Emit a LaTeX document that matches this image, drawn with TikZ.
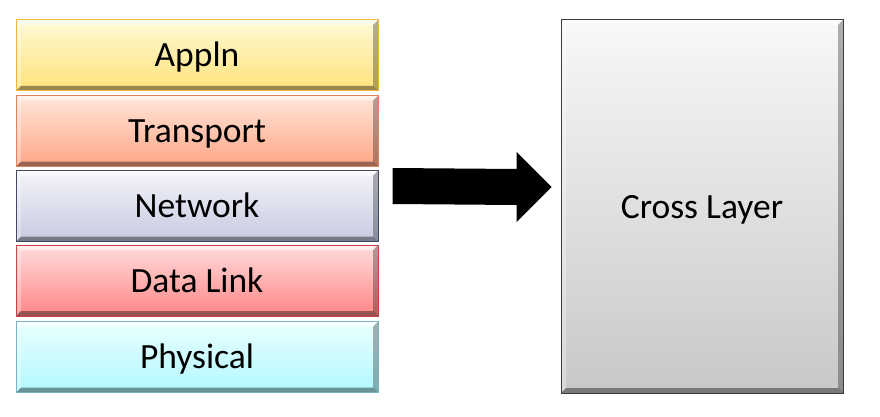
\documentclass[tikz,border=0pt]{standalone}
\usepackage{fontspec}
\setmainfont{Carlito}
\begin{document}
\begin{tikzpicture}[x=1pt,y=-1pt,
  bev/.style={path picture={
    \fill[white,opacity=0.55] (path picture bounding box.north west) -- (path picture bounding box.north east)
       -- ([shift={(-5,5)}]path picture bounding box.north east) -- ([shift={(5,5)}]path picture bounding box.north west) -- cycle;
    \fill[white,opacity=0.3] (path picture bounding box.north west) -- ([shift={(5,5)}]path picture bounding box.north west)
       -- ([shift={(5,-5)}]path picture bounding box.south west) -- (path picture bounding box.south west) -- cycle;
    \fill[black,opacity=0.3] (path picture bounding box.north east) -- (path picture bounding box.south east)
       -- ([shift={(-5,-5)}]path picture bounding box.south east) -- ([shift={(-5,5)}]path picture bounding box.north east) -- cycle;
    \fill[black,opacity=0.4] (path picture bounding box.south west) -- (path picture bounding box.south east)
       -- ([shift={(-5,-5)}]path picture bounding box.south east) -- ([shift={(5,-5)}]path picture bounding box.south west) -- cycle;
  }},
  layer/.style n args={3}{draw=#3, line width=1pt, top color=#1, bottom color=#2, bev,
    minimum width=362pt, minimum height=71pt, inner sep=0pt, text height=23pt, text depth=0pt,
    font=\fontsize{35.5}{40}\selectfont},
]
\useasboundingbox (0,0) rectangle (880,417);
\definecolor{apT}{HTML}{FFF9D6}\definecolor{apB}{HTML}{FFE27A}\definecolor{apD}{HTML}{F2B53A}
\definecolor{trT}{HTML}{FFE6DA}\definecolor{trB}{HTML}{FFA585}\definecolor{trD}{HTML}{E0845F}
\definecolor{nwT}{HTML}{F4F4FA}\definecolor{nwB}{HTML}{C6CAE0}\definecolor{nwD}{HTML}{404A66}
\definecolor{dlT}{HTML}{FFDCDC}\definecolor{dlB}{HTML}{FF8585}\definecolor{dlD}{HTML}{C84444}
\definecolor{phT}{HTML}{EAFFFF}\definecolor{phB}{HTML}{B0F8FF}\definecolor{phD}{HTML}{7AB4C4}
\definecolor{crT}{HTML}{F8F8F8}\definecolor{crB}{HTML}{C8C8C8}\definecolor{crD}{HTML}{3C3C3C}
\node[layer={apT}{apB}{apD}] (appln) at (197,55.5) {Appln};
\node[layer={trT}{trB}{trD}] (transport) at (197,131) {Transport};
\node[layer={nwT}{nwB}{nwD}] (network) at (197,206) {Network};
\node[layer={dlT}{dlB}{dlD}] (datalink) at (197,280.5) {Data Link};
\node[layer={phT}{phB}{phD}] (physical) at (197,357) {Physical};
\node[layer={crT}{crB}{crD}, minimum width=282pt, minimum height=373pt] (cross) at (702,206.5) {Cross Layer};
\coordinate (as) at ([shift={(14,-20)}]network.east);
\coordinate (at) at ([shift={(-9,-19.5)}]cross.west);
\fill[black] ([shift={(0,-18)}]as) -- ([shift={(-35,-18)}]at) -- ([shift={(-35,-35)}]at) -- (at)
  -- ([shift={(-35,35)}]at) -- ([shift={(-35,18)}]at) -- ([shift={(0,18)}]as) -- cycle;
\end{tikzpicture}
\end{document}
